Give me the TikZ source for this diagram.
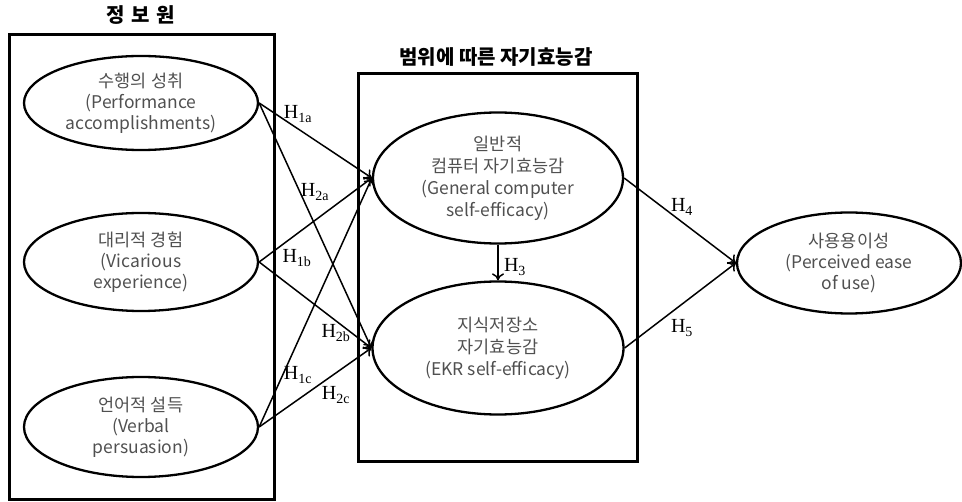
\documentclass[tikz,border=0pt]{standalone}
\usepackage{fontspec}
\usetikzlibrary{shapes.geometric,arrows.meta}
\newfontfamily\kr{Noto Sans CJK KR}
\newfontfamily\hfont{Liberation Serif}
\definecolor{txtgray}{HTML}{505050}
\newcommand\hyp[1]{H\textsubscript{#1}}
\begin{document}
\begin{tikzpicture}[x=1pt,y=-1pt,
  box/.style={draw,line width=3pt,inner sep=0pt,anchor=north west},
  ell/.style={draw,ellipse,line width=2.3pt,inner sep=0pt,align=center,text=txtgray,font=\kr\fontsize{17.5}{21}\selectfont},
  arr/.style={-{To[length=7pt,width=12pt]},line width=1.5pt},
  hl/.style={font=\hfont\fontsize{20}{22}\selectfont,inner sep=0pt},
  ttl/.style={font=\kr\bfseries\fontsize{20}{22}\selectfont,inner sep=0pt}]
\useasboundingbox (0,0) rectangle (962,502);
% boxes
\node[box,minimum width=265pt,minimum height=465pt] (boxL) at (8,33) {};
\node[box,minimum width=279pt,minimum height=388pt] (boxM) at (357,72) {};
\node[ttl] (tL) at (141,15) {정\,\,보\,\,원};
\node[ttl] (tM) at (496,57) {범위에 따른 자기효능감};
% ellipses
\node[ell,minimum width=234pt,minimum height=94pt] (ps) at (141,103) {수행의 성취\\(Performance\\accomplishments)};
\node[ell,minimum width=234pt,minimum height=98pt] (ve) at (141,262) {대리적 경험\\(Vicarious\\experience)};
\node[ell,minimum width=234pt,minimum height=100pt] (vp) at (141,427) {언어적 설득\\(Verbal\\persuasion)};
\node[ell,minimum width=250pt,minimum height=131pt,font=\kr\fontsize{17.5}{22}\selectfont] (gc) at (498,178) {일반적\\컴퓨터 자기효능감\\(General computer\\self-efficacy)};
\node[ell,minimum width=251pt,minimum height=133pt,font=\kr\fontsize{17.5}{22}\selectfont] (ek) at (498,348) {지식저장소\\자기효능감\\(EKR self-efficacy)};
\node[ell,minimum width=224pt,minimum height=101pt] (pe) at (849,263) {사용용이성\\(Perceived ease\\of use)};
% connectors
\draw[arr] (ps.east) -- (gc.west);
\draw[arr] (ps.east) -- (ek.west);
\draw[arr] (ve.east) -- (gc.west);
\draw[arr] (ve.east) -- (ek.west);
\draw[arr] (vp.east) -- (gc.west);
\draw[arr] (vp.east) -- (ek.west);
\draw[arr] (gc.south) -- (ek.north);
\draw[arr] (gc.east) -- (pe.west);
\draw[arr] (ek.east) -- (pe.west);
% labels
\node[hl] (h1a) at (298,114) {\hyp{1a}};
\node[hl] (h2a) at (315,192) {\hyp{2a}};
\node[hl] (h1b) at (297,258) {\hyp{1b}};
\node[hl] (h2b) at (336,333) {\hyp{2b}};
\node[hl] (h1c) at (298,375) {\hyp{1c}};
\node[hl] (h2c) at (336,395) {\hyp{2c}};
\node[hl] (h3) at (515,267) {\hyp{3}};
\node[hl] (h4) at (682,207) {\hyp{4}};
\node[hl] (h5) at (682,328) {\hyp{5}};
\end{tikzpicture}
\end{document}
